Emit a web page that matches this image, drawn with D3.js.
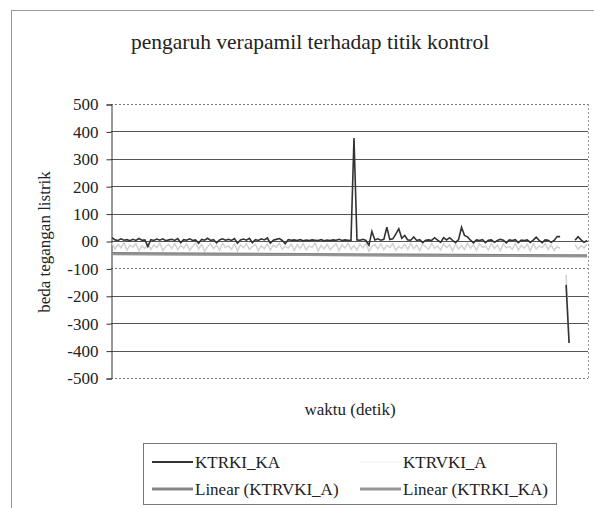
<!DOCTYPE html>
<html><head><meta charset="utf-8">
<script src="https://cdn.jsdelivr.net/npm/d3@7"></script>
</head><body style="margin:0"><svg id="c" width="594" height="508"></svg>
<script>
const title = "pengaruh verapamil terhadap titik kontrol";
const yTicks = [500,400,300,200,100,0,-100,-200,-300,-400,-500];
const yTickLabels = ["500","400","300","200","100","00","-100","-200","-300","-400","-500"];
const seriesNames = ["KTRKI_KA","KTRVKI_A","Linear (KTRVKI_A)","Linear (KTRKI_KA)"];
const ktrkiKA = [
12,4,2,8,3,5,1,6,2,9,3,4,-20,5,2,7,3,8,1,4,
6,2,9,-6,5,3,8,2,4,-8,6,3,10,2,5,-7,4,8,3,6,
2,9,-8,4,7,3,10,-6,5,2,8,4,11,-8,3,6,9,2,-10,5,
3,4,2,5,1,3,2,4,3,2,5,1,3,2,4,3,6,2,4,3,
2,376,4,3,6,2,-15,35,4,8,3,6,50,5,8,25,45,10,20,4,
3,15,2,5,-6,3,4,2,12,3,-5,12,4,12,2,-6,5,50,20,15,
3,-7,4,2,5,-6,3,4,-5,2,6,3,-7,4,2,5,-6,3,2,4,
-5,3,14,2,-6,4,3,-5,2,16,16,null,-160,-372,null,3,16,4,-5,2];
const ktrvkiA = [
-8,-30,-12,-25,-6,-33,-15,-22,-9,-36,-18,-27,-10,-31,-14,-24,-7,-35,-20,-12,
-28,-9,-32,-16,-26,-11,-34,-19,-8,-29,-13,-37,-21,-10,-27,-15,-33,-8,-24,-18,
-30,-11,-36,-14,-25,-9,-31,-20,-12,-35,-17,-28,-10,-33,-15,-23,-8,-30,-19,-26,
-11,-34,-13,-27,-9,-32,-18,-24,-7,-36,-16,-29,-12,-31,-21,-10,-35,-14,-26,-9,
-30,-17,-33,-11,-25,-8,-37,-20,-13,-29,-10,-32,-16,-24,-9,-34,-19,-27,-12,-31,
-8,-28,-15,-35,-11,-22,-30,-9,-26,-18,-33,-10,-24,-14,-36,-12,-29,-17,-31,-8,
-27,-13,-34,-10,-23,-19,-32,-9,-28,-15,-35,-11,-25,-20,-30,-8,-33,-16,-26,-12,
-36,-10,-29,-18,-24,-9,-31,-14,-34,-21,-27,null,-124,-372,null,-13,-30,-17,-25,-10];
const trendVKI = [-46,-54];
const trendKKA = [-48,-56];

const svg = d3.select("#c");
const m = {l:111, r:588, t:104, b:378};
svg.append("rect").attr("x",11.5).attr("y",10.5).attr("width",600).attr("height",520)
  .attr("fill","#fff").attr("stroke","#999").attr("stroke-width",1);

const x = d3.scaleLinear().domain([0, ktrkiKA.length-1]).range([m.l+1, m.r-1]);
const y = d3.scaleLinear().domain([-500,500]).range([m.b, m.t]);

const g = svg.append("g");
yTicks.forEach(v => {
  const dotted = (v===500||v===-500||v===-100);
  g.append("line").attr("x1",m.l).attr("x2",m.r).attr("y1",Math.round(y(v))+0.5).attr("y2",Math.round(y(v))+0.5)
    .attr("stroke", dotted? "#777":"#555").attr("stroke-width",1)
    .attr("stroke-dasharray", dotted? "2,2": null);
});
g.append("line").attr("x1",m.r+0.5).attr("x2",m.r+0.5).attr("y1",m.t).attr("y2",m.b)
  .attr("stroke","#999").attr("stroke-dasharray","2,2");

const yAxis = d3.axisLeft(y).tickValues(yTicks).tickSize(5).tickPadding(8)
  .tickFormat((d,i)=>yTickLabels[i]);
const ax = svg.append("g").attr("transform",`translate(${m.l+0.5},0.5)`).call(yAxis);
ax.attr("font-family","Liberation Serif").attr("font-size",17);
ax.select(".domain").attr("stroke","#333");
ax.selectAll(".tick line").attr("stroke","#333");
ax.selectAll(".tick text").attr("fill","#222").attr("font-family","Liberation Serif").attr("font-size",17);

const line = d3.line().defined(d=>d!==null).x((d,i)=>x(i)).y(d=>y(d));
const plot = svg.append("g");
plot.append("path").datum(ktrvkiA).attr("d", line).attr("fill","none").attr("stroke","#d2d2d2").attr("stroke-width",1.5);
const tline = d3.line().x((d,i)=>x(i*(ktrkiKA.length-1))).y(d=>y(d));
plot.append("path").datum(trendVKI).attr("d",tline).attr("fill","none").attr("stroke","#808080").attr("stroke-width",3);
plot.append("path").datum(trendKKA).attr("d",tline).attr("fill","none").attr("stroke","#959595").attr("stroke-width",2);
plot.append("path").datum(ktrkiKA).attr("d", line).attr("fill","none").attr("stroke","#333").attr("stroke-width",1.6);

svg.append("text").attr("x",310).attr("y",49).attr("text-anchor","middle").attr("font-family","Liberation Serif").attr("font-size",21.5).attr("fill","#222").text(title);
svg.append("text").attr("transform","translate(50,242) rotate(-90)").attr("text-anchor","middle").attr("font-family","Liberation Serif").attr("font-size",17).attr("fill","#222").text("beda tegangan listrik");
svg.append("text").attr("x",350).attr("y",415).attr("text-anchor","middle").attr("font-family","Liberation Serif").attr("font-size",17).attr("fill","#222").text("waktu (detik)");

const lg = svg.append("g");
lg.append("rect").attr("x",143.5).attr("y",443.5).attr("width",413).attr("height",61).attr("fill","none").attr("stroke","#777");
const items = [
  {x:152, y:462, name:seriesNames[0], c:"#333", w:2},
  {x:360, y:462, name:seriesNames[1], c:"#eeeeee", w:1},
  {x:152, y:489, name:seriesNames[2], c:"#858585", w:3},
  {x:360, y:489, name:seriesNames[3], c:"#959595", w:3}
];
items.forEach(it=>{
  lg.append("line").attr("x1",it.x).attr("x2",it.x+41).attr("y1",it.y).attr("y2",it.y).attr("stroke",it.c).attr("stroke-width",it.w);
  lg.append("text").attr("x",it.x+43).attr("y",it.y+6).attr("font-family","Liberation Serif").attr("font-size",17).attr("fill","#222").text(it.name);
});
</script></body></html>
